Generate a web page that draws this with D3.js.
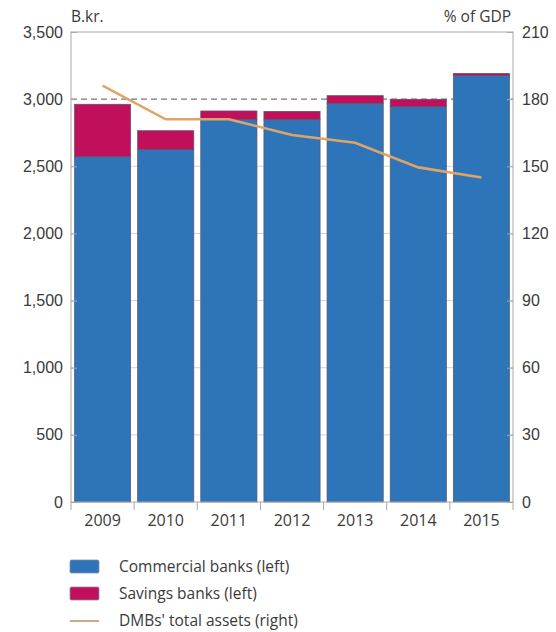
<!DOCTYPE html>
<html>
<head>
<meta charset="utf-8">
<script src="https://cdn.jsdelivr.net/npm/d3@7"></script>
<style>
  html, body { margin: 0; padding: 0; background: #fff; }
  svg { display: block; font-family: "Open Sans", "Noto Sans", sans-serif; }
</style>
</head>
<body>
<svg id="chart" width="556" height="632"></svg>
<script>
// Deposit money banks' assets, billions of krónur (left) and % of GDP (right)
const years = ["2009", "2010", "2011", "2012", "2013", "2014", "2015"];
const commercialBanks = [2571, 2626, 2850, 2850, 2969, 2944, 3175];
const savingsBanks = [391, 139, 62, 59, 57, 55, 17];
const totalAssetsGDP = [186, 171, 171, 164, 160.5, 149.5, 145];
const leftTicks = [0, 500, 1000, 1500, 2000, 2500, 3000, 3500];
const rightTicks = [0, 30, 60, 90, 120, 150, 180, 210];
const legendLabels = ["Commercial banks (left)", "Savings banks (left)", "DMBs' total assets (right)"];

const colors = { commercial: "#2e74b8", savings: "#c0105c", line: "#dea565" };
const textColor = "#3a3a3a";

const svg = d3.select("#chart");
const plot = { left: 71, right: 513, top: 32, bottom: 502 };

const x = d3.scaleBand().domain(years).range([plot.left, plot.right]).paddingInner(0.11).paddingOuter(0.055);
const yL = d3.scaleLinear().domain([0, 3500]).range([plot.bottom, plot.top]);
const yR = d3.scaleLinear().domain([0, 210]).range([plot.bottom, plot.top]);

// light horizontal gridlines, with a dashed reference at 3,000
svg.append("g").selectAll("line").data(leftTicks.filter(t => t > 0 && t < 3500)).join("line")
  .attr("x1", plot.left).attr("x2", plot.right)
  .attr("y1", d => yL(d)).attr("y2", d => yL(d))
  .attr("stroke", d => d === 3000 ? "#777" : "#d4d4d4")
  .attr("stroke-width", d => d === 3000 ? 1.3 : 1)
  .attr("stroke-dasharray", d => d === 3000 ? "6,4" : null);

// stacked bars
const stackData = years.map((yr, i) => ({ year: yr, commercial: commercialBanks[i], savings: savingsBanks[i] }));
const stacked = d3.stack().keys(["commercial", "savings"])(stackData);
svg.append("g").selectAll("g").data(stacked).join("g")
  .attr("fill", d => colors[d.key])
  .selectAll("rect").data(d => d).join("rect")
  .attr("x", d => x(d.data.year))
  .attr("width", x.bandwidth())
  .attr("y", d => yL(d[1]))
  .attr("height", d => yL(d[0]) - yL(d[1]))
  .attr("stroke", "#5b5470")
  .attr("stroke-width", 0.7);

// frame
svg.append("rect")
  .attr("x", plot.left).attr("y", plot.top)
  .attr("width", plot.right - plot.left).attr("height", plot.bottom - plot.top)
  .attr("fill", "none").attr("stroke", "#a8a8a8").attr("stroke-width", 1);

// left axis
const leftAxis = svg.append("g").attr("transform", `translate(${plot.left},0)`)
  .call(d3.axisLeft(yL).tickValues(leftTicks).tickSize(-6).tickPadding(8).tickFormat(d3.format(",")));
leftAxis.select(".domain").remove();
leftAxis.selectAll("line").attr("stroke", "#a8a8a8");
leftAxis.selectAll("text").attr("fill", textColor).style("font-size", "16px");

// right axis, clipped at the page edge
svg.append("defs").append("clipPath").attr("id", "rightClip")
  .append("rect").attr("x", 0).attr("y", 0).attr("width", 548.5).attr("height", 632);
const rightAxis = svg.append("g").attr("clip-path", "url(#rightClip)")
  .append("g").attr("transform", `translate(${plot.right},0)`)
  .call(d3.axisRight(yR).tickValues(rightTicks).tickSize(-6).tickPadding(9).tickFormat(d3.format("d")));
rightAxis.select(".domain").remove();
rightAxis.selectAll("line").attr("stroke", "#a8a8a8");
rightAxis.selectAll("text").attr("fill", textColor).style("font-size", "16px");

// bottom axis with ticks between categories
const bottom = svg.append("g").attr("transform", `translate(0,${plot.bottom})`);
const bounds = years.map(yr => x(yr) - x.step() * x.paddingInner() / 2).concat([plot.right]);
bounds[0] = plot.left;
bottom.selectAll("line").data(bounds).join("line")
  .attr("x1", d => d).attr("x2", d => d).attr("y1", 0).attr("y2", 8)
  .attr("stroke", "#a8a8a8");
bottom.selectAll("text").data(years).join("text")
  .attr("x", d => x(d) + x.bandwidth() / 2).attr("y", 24)
  .attr("text-anchor", "middle").attr("fill", textColor).style("font-size", "16px")
  .text(d => d);

// line for total assets as % of GDP
const line = d3.line().x((d, i) => x(years[i]) + x.bandwidth() / 2).y(d => yR(d));
svg.append("path").datum(totalAssetsGDP)
  .attr("d", line).attr("fill", "none")
  .attr("stroke", colors.line).attr("stroke-width", 2.6);

// axis titles
svg.append("text").attr("x", 71).attr("y", 22).attr("fill", textColor).style("font-size", "15.5px").text("B.kr.");
svg.append("text").attr("x", 511).attr("y", 22).attr("text-anchor", "end").attr("fill", textColor).style("font-size", "15.5px").text("% of GDP");

// legend
const legend = svg.append("g").attr("transform", "translate(70,560)");
const rows = legend.selectAll("g").data(legendLabels).join("g")
  .attr("transform", (d, i) => `translate(0,${i * 27})`);
rows.filter((d, i) => i < 2).append("rect")
  .attr("x", 0).attr("y", 0).attr("width", 29).attr("height", 13).attr("rx", 1.5)
  .attr("fill", (d, i) => i === 0 ? colors.commercial : colors.savings)
  .attr("stroke", "#8a8a9a").attr("stroke-width", 0.8);
rows.filter((d, i) => i === 2).append("line")
  .attr("x1", 0).attr("x2", 29).attr("y1", 7).attr("y2", 7)
  .attr("stroke", "#c9aa8c").attr("stroke-width", 2);
rows.append("text").attr("x", 49).attr("y", 12).attr("fill", textColor).style("font-size", "15.5px").text(d => d);
</script>
</body>
</html>
